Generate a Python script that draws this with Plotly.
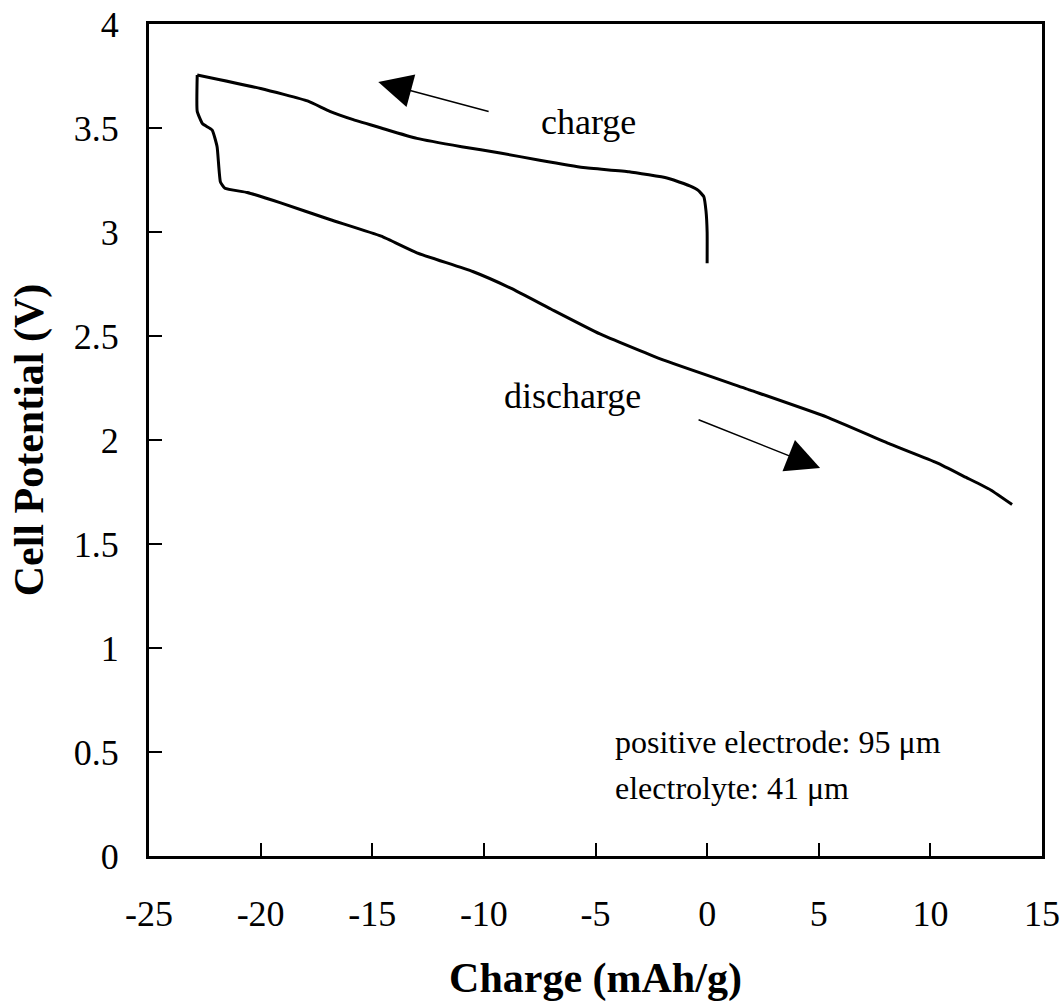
import plotly.graph_objects as go

# Charge curve (mAh/g, V)
charge_x = [0.0, 0.0, -0.05, -0.15, -0.4, -0.75, -1.5, -1.8, -3.5, -5.55, -7.5, -9.27, -11.0,
            -13.0, -14.6, -15.85, -16.9, -17.9, -20.0, -22.84]
charge_y = [2.85, 3.0, 3.1, 3.17, 3.2, 3.22, 3.25, 3.26, 3.29, 3.31, 3.345, 3.38, 3.41,
            3.45, 3.50, 3.54, 3.58, 3.63, 3.69, 3.755]

# Discharge curve
discharge_x = [-22.84, -22.84, -22.6, -22.17, -21.95, -21.8, -21.6, -20.6, -19.1, -16.9, -14.6,
               -13.0, -10.5, -8.8, -7.0, -4.8, -2.1, 1.93, 5.37, 8.2, 10.3, 11.6, 12.7, 13.66]
discharge_y = [3.755, 3.58, 3.52, 3.49, 3.41, 3.24, 3.21, 3.19, 3.14, 3.06, 2.98,
               2.90, 2.81, 2.73, 2.63, 2.51, 2.39, 2.24, 2.11, 1.98, 1.89, 1.82, 1.76, 1.69]

x_ticks = [-25, -20, -15, -10, -5, 0, 5, 10, 15]
y_ticks = [0, 0.5, 1, 1.5, 2, 2.5, 3, 3.5, 4]
y_tick_labels = ["0", "0.5", "1", "1.5", "2", "2.5", "3", "3.5", "4"]

FONT = "Liberation Serif, Times New Roman, serif"

fig = go.Figure()
fig.add_trace(go.Scatter(x=charge_x, y=charge_y, mode="lines", name="charge",
                         line=dict(color="black", width=3, shape="spline", smoothing=0.4),
                         showlegend=False))
fig.add_trace(go.Scatter(x=discharge_x, y=discharge_y, mode="lines", name="discharge",
                         line=dict(color="black", width=3, shape="spline", smoothing=0.4),
                         showlegend=False))

annotations = [
    dict(x=-5.33, y=3.53, text="charge", showarrow=False, font=dict(size=36)),
    dict(x=-6.05, y=2.21, text="discharge", showarrow=False, font=dict(size=36)),
    dict(x=-14.73, y=3.721, ax=-9.72, ay=3.577, axref="x", ayref="y", xref="x", yref="y",
         text="", showarrow=True, arrowhead=2, arrowsize=4.5, arrowwidth=1.5, arrowcolor="black"),
    dict(x=5.06, y=1.865, ax=-0.45, ay=2.10, axref="x", ayref="y", xref="x", yref="y",
         text="", showarrow=True, arrowhead=2, arrowsize=4.5, arrowwidth=1.5, arrowcolor="black"),
    dict(x=-4.21, y=0.548, text="positive electrode: 95 \u03bcm", showarrow=False,
         xanchor="left", font=dict(size=32)),
    dict(x=-4.21, y=0.327, text="electrolyte: 41 \u03bcm", showarrow=False,
         xanchor="left", font=dict(size=32)),
]

fig.update_layout(
    width=1063, height=1003,
    margin=dict(l=149, r=21, t=24, b=147),
    paper_bgcolor="white", plot_bgcolor="white",
    font=dict(family=FONT, color="black", size=34),
    annotations=annotations,
    xaxis=dict(
        range=[-25, 15], tickvals=x_ticks, ticktext=[str(v) for v in x_ticks],
        showgrid=False, zeroline=False, automargin=False,
        showline=True, linecolor="black", linewidth=3, mirror=True,
        ticks="inside", ticklen=13, tickwidth=2, tickcolor="black",
        ticklabelstandoff=24,
        tickfont=dict(size=36),
        title=dict(text="<b>Charge (mAh/g)</b>", font=dict(size=42), standoff=30),
    ),
    yaxis=dict(
        range=[0, 4], tickvals=y_ticks, ticktext=y_tick_labels,
        showgrid=False, zeroline=False, automargin=False,
        showline=True, linecolor="black", linewidth=3, mirror=True,
        ticks="inside", ticklen=13, tickwidth=2, tickcolor="black",
        ticklabelstandoff=20,
        tickfont=dict(size=36),
        title=dict(text="<b>Cell Potential (V)</b>", font=dict(size=42), standoff=18),
    ),
)

fig.write_html("out.html")
